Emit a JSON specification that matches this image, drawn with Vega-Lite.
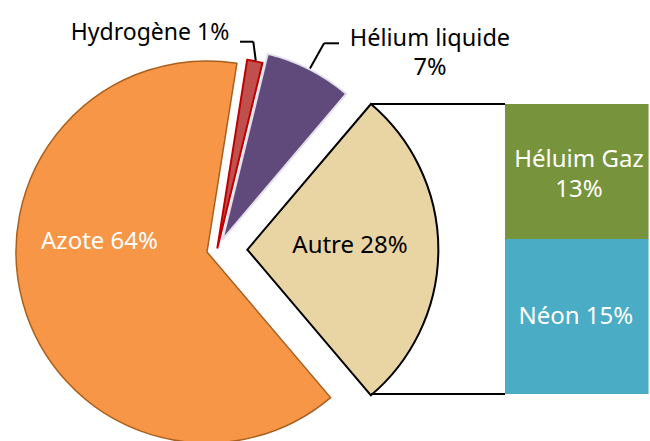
{
  "$schema": "https://vega.github.io/schema/vega-lite/v6.json",
  "width": 650,
  "height": 441,
  "autosize": "none",
  "padding": 0,
  "background": "white",
  "config": {"view": {"stroke": null}, "text": {"font": "Noto Sans", "fontSize": 24}},
  "datasets": {
    "pie": [
      {"name": "Autre", "value": 27.6, "order": 1, "label": "Autre 28%"},
      {"name": "Azote", "value": 63.7, "order": 2, "label": "Azote 64%"},
      {"name": "Hydrogène", "value": 1.3, "order": 3, "label": "Hydrogène 1%"},
      {"name": "Hélium liquide", "value": 7.4, "order": 4, "label": "Hélium liquide\n7%"}
    ],
    "bar": [
      {"name": "Néon", "value": 14.75, "order": 1, "label": "Néon 15%"},
      {"name": "Héluim Gaz", "value": 12.85, "order": 2, "label": "Héluim Gaz\n13%"}
    ]
  },
  "layer": [
    {
      "data": {"name": "pie"},
      "transform": [
        {"stack": "value", "groupby": [], "sort": [{"field": "order"}], "as": ["v0", "v1"]},
        {"filter": "datum.name === 'Azote'"}
      ],
      "mark": {"type": "arc", "outerRadius": 191, "fill": "#F79646", "stroke": "#A9601F", "strokeWidth": 1.5},
      "encoding": {
        "theta": {"field": "v0", "type": "quantitative", "scale": {"domain": [0, 100], "range": [0.70372, 6.98691]}},
        "theta2": {"field": "v1"},
        "x": {"datum": 19.70, "type": "quantitative", "scale": {"domain": [0, 61.86], "nice": false, "zero": false}, "axis": null},
        "y": {"datum": 13.52, "type": "quantitative", "scale": {"domain": [-4.47, 37.5], "nice": false, "zero": false}, "axis": null}
      }
    },
    {
      "data": {"name": "pie"},
      "transform": [
        {"stack": "value", "groupby": [], "sort": [{"field": "order"}], "as": ["v0", "v1"]},
        {"filter": "datum.name === 'Hydrogène'"}
      ],
      "mark": {"type": "arc", "outerRadius": 191, "fill": "#C0504D", "stroke": "#C00000", "strokeWidth": 2},
      "encoding": {
        "theta": {"field": "v0", "type": "quantitative", "scale": {"domain": [0, 100], "range": [0.70372, 6.98691]}},
        "theta2": {"field": "v1"},
        "x": {"datum": 20.68, "type": "quantitative", "scale": {"domain": [0, 61.86], "nice": false, "zero": false}, "axis": null},
        "y": {"datum": 13.85, "type": "quantitative", "scale": {"domain": [-4.47, 37.5], "nice": false, "zero": false}, "axis": null}
      }
    },
    {
      "data": {"name": "pie"},
      "transform": [
        {"stack": "value", "groupby": [], "sort": [{"field": "order"}], "as": ["v0", "v1"]},
        {"filter": "datum.name === 'Hélium liquide'"}
      ],
      "mark": {"type": "arc", "outerRadius": 191, "fill": "#604A7B", "stroke": "#E4DFEC", "strokeWidth": 2},
      "encoding": {
        "theta": {"field": "v0", "type": "quantitative", "scale": {"domain": [0, 100], "range": [0.70372, 6.98691]}},
        "theta2": {"field": "v1"},
        "x": {"datum": 21.18, "type": "quantitative", "scale": {"domain": [0, 61.86], "nice": false, "zero": false}, "axis": null},
        "y": {"datum": 14.71, "type": "quantitative", "scale": {"domain": [-4.47, 37.5], "nice": false, "zero": false}, "axis": null}
      }
    },
    {
      "data": {"name": "pie"},
      "transform": [
        {"stack": "value", "groupby": [], "sort": [{"field": "order"}], "as": ["v0", "v1"]},
        {"filter": "datum.name === 'Autre'"}
      ],
      "mark": {"type": "arc", "outerRadius": 191, "fill": "#E9D5A3", "stroke": "#000000", "strokeWidth": 2},
      "encoding": {
        "theta": {"field": "v0", "type": "quantitative", "scale": {"domain": [0, 100], "range": [0.70372, 6.98691]}},
        "theta2": {"field": "v1"},
        "x": {"datum": 23.54, "type": "quantitative", "scale": {"domain": [0, 61.86], "nice": false, "zero": false}, "axis": null},
        "y": {"datum": 13.74, "type": "quantitative", "scale": {"domain": [-4.47, 37.5], "nice": false, "zero": false}, "axis": null}
      }
    },
    {
      "data": {"name": "bar"},
      "transform": [
        {"stack": "value", "groupby": [], "sort": [{"field": "order"}], "as": ["b0", "b1"]}
      ],
      "mark": {"type": "rect"},
      "encoding": {
        "x": {"datum": 48.06, "type": "quantitative", "scale": {"domain": [0, 61.86], "nice": false, "zero": false}, "axis": null},
        "x2": {"datum": 61.72},
        "y": {"field": "b0", "type": "quantitative", "scale": {"domain": [-4.47, 37.5], "nice": false, "zero": false}, "axis": null},
        "y2": {"field": "b1"},
        "color": {"field": "name", "type": "nominal", "scale": {"domain": ["Néon", "Héluim Gaz"], "range": ["#4BACC6", "#77933C"]}, "legend": null}
      }
    },
    {
      "data": {"name": "pie"},
      "transform": [{"filter": "datum.name === 'Autre'"}],
      "mark": {"type": "rule", "color": "#000000", "strokeWidth": 2},
      "encoding": {
        "x": {"datum": 35.31, "type": "quantitative", "scale": {"domain": [0, 61.86], "nice": false, "zero": false}, "axis": null},
        "x2": {"datum": 48.06},
        "y": {"field": "value", "type": "quantitative", "scale": {"domain": [-4.47, 37.5], "nice": false, "zero": false}, "axis": null}
      }
    },
    {
      "data": {"name": "pie"},
      "transform": [{"filter": "datum.name === 'Autre'"}],
      "mark": {"type": "rule", "color": "#000000", "strokeWidth": 2},
      "encoding": {
        "x": {"datum": 35.31, "type": "quantitative", "scale": {"domain": [0, 61.86], "nice": false, "zero": false}, "axis": null},
        "x2": {"datum": 48.06},
        "y": {"datum": 0, "type": "quantitative", "scale": {"domain": [-4.47, 37.5], "nice": false, "zero": false}, "axis": null}
      }
    },
    {
      "data": {"name": "pie"},
      "transform": [{"filter": "datum.name === 'Hydrogène'"}],
      "mark": {"type": "rule", "color": "#000000", "strokeWidth": 2},
      "encoding": {
        "x": {"datum": 22.84, "type": "quantitative", "scale": {"domain": [0, 61.86], "nice": false, "zero": false}, "axis": null},
        "x2": {"datum": 24.11},
        "y": {"datum": 33.53, "type": "quantitative", "scale": {"domain": [-4.47, 37.5], "nice": false, "zero": false}, "axis": null},
        "y2": {"datum": 33.53}
      }
    },
    {
      "data": {"name": "pie"},
      "transform": [{"filter": "datum.name === 'Hydrogène'"}],
      "mark": {"type": "rule", "color": "#000000", "strokeWidth": 2},
      "encoding": {
        "x": {"datum": 24.11, "type": "quantitative", "scale": {"domain": [0, 61.86], "nice": false, "zero": false}, "axis": null},
        "x2": {"datum": 24.34},
        "y": {"datum": 33.53, "type": "quantitative", "scale": {"domain": [-4.47, 37.5], "nice": false, "zero": false}, "axis": null},
        "y2": {"datum": 31.72}
      }
    },
    {
      "data": {"name": "pie"},
      "transform": [{"filter": "datum.name === 'Hélium liquide'"}],
      "mark": {"type": "rule", "color": "#000000", "strokeWidth": 2},
      "encoding": {
        "x": {"datum": 30.84, "type": "quantitative", "scale": {"domain": [0, 61.86], "nice": false, "zero": false}, "axis": null},
        "x2": {"datum": 32.26},
        "y": {"datum": 33.38, "type": "quantitative", "scale": {"domain": [-4.47, 37.5], "nice": false, "zero": false}, "axis": null},
        "y2": {"datum": 33.38}
      }
    },
    {
      "data": {"name": "pie"},
      "transform": [{"filter": "datum.name === 'Hélium liquide'"}],
      "mark": {"type": "rule", "color": "#000000", "strokeWidth": 2},
      "encoding": {
        "x": {"datum": 30.84, "type": "quantitative", "scale": {"domain": [0, 61.86], "nice": false, "zero": false}, "axis": null},
        "x2": {"datum": 29.50},
        "y": {"datum": 33.38, "type": "quantitative", "scale": {"domain": [-4.47, 37.5], "nice": false, "zero": false}, "axis": null},
        "y2": {"datum": 30.98}
      }
    },
    {
      "data": {"name": "pie"},
      "transform": [{"filter": "datum.name === 'Azote'"}],
      "mark": {"type": "text", "color": "#FFFFFF", "align": "center", "baseline": "alphabetic"},
      "encoding": {
        "text": {"field": "label"},
        "x": {"datum": 9.47, "type": "quantitative", "scale": {"domain": [0, 61.86], "nice": false, "zero": false}, "axis": null},
        "y": {"datum": 13.80, "type": "quantitative", "scale": {"domain": [-4.47, 37.5], "nice": false, "zero": false}, "axis": null}
      }
    },
    {
      "data": {"name": "pie"},
      "transform": [{"filter": "datum.name === 'Autre'"}],
      "mark": {"type": "text", "color": "#000000", "align": "center", "baseline": "alphabetic"},
      "encoding": {
        "text": {"field": "label"},
        "x": {"datum": 33.31, "type": "quantitative", "scale": {"domain": [0, 61.86], "nice": false, "zero": false}, "axis": null},
        "y": {"datum": 13.42, "type": "quantitative", "scale": {"domain": [-4.47, 37.5], "nice": false, "zero": false}, "axis": null}
      }
    },
    {
      "data": {"name": "pie"},
      "transform": [{"filter": "datum.name === 'Hydrogène'"}],
      "mark": {"type": "text", "color": "#000000", "align": "center", "baseline": "alphabetic", "fontSize": 23},
      "encoding": {
        "text": {"field": "label"},
        "x": {"datum": 14.28, "type": "quantitative", "scale": {"domain": [0, 61.86], "nice": false, "zero": false}, "axis": null},
        "y": {"datum": 33.69, "type": "quantitative", "scale": {"domain": [-4.47, 37.5], "nice": false, "zero": false}, "axis": null}
      }
    },
    {
      "data": {"name": "pie"},
      "transform": [{"filter": "datum.name === 'Hélium liquide'"}],
      "mark": {"type": "text", "color": "#000000", "align": "center", "baseline": "alphabetic", "lineBreak": "\n", "lineHeight": 29.5, "fontSize": 23.5},
      "encoding": {
        "text": {"field": "label"},
        "x": {"datum": 40.92, "type": "quantitative", "scale": {"domain": [0, 61.86], "nice": false, "zero": false}, "axis": null},
        "y": {"datum": 33.16, "type": "quantitative", "scale": {"domain": [-4.47, 37.5], "nice": false, "zero": false}, "axis": null}
      }
    },
    {
      "data": {"name": "bar"},
      "transform": [
        {"stack": "value", "groupby": [], "sort": [{"field": "order"}], "as": ["b0", "b1"]},
        {"calculate": "(datum.b0 + datum.b1) / 2", "as": "mid"},
        {"filter": "datum.name === 'Néon'"}
      ],
      "mark": {"type": "text", "color": "#FFFFFF", "align": "center", "baseline": "middle"},
      "encoding": {
        "text": {"field": "label"},
        "x": {"datum": 54.8, "type": "quantitative", "scale": {"domain": [0, 61.86], "nice": false, "zero": false}, "axis": null},
        "y": {"field": "mid", "type": "quantitative", "scale": {"domain": [-4.47, 37.5], "nice": false, "zero": false}, "axis": null}
      }
    },
    {
      "data": {"name": "bar"},
      "transform": [
        {"stack": "value", "groupby": [], "sort": [{"field": "order"}], "as": ["b0", "b1"]},
        {"calculate": "(datum.b0 + datum.b1) / 2", "as": "mid"},
        {"filter": "datum.name === 'Héluim Gaz'"}
      ],
      "mark": {"type": "text", "color": "#FFFFFF", "align": "center", "baseline": "middle", "lineBreak": "\n", "lineHeight": 30, "dy": -12},
      "encoding": {
        "text": {"field": "label"},
        "x": {"datum": 55.1, "type": "quantitative", "scale": {"domain": [0, 61.86], "nice": false, "zero": false}, "axis": null},
        "y": {"field": "mid", "type": "quantitative", "scale": {"domain": [-4.47, 37.5], "nice": false, "zero": false}, "axis": null}
      }
    }
  ]
}
